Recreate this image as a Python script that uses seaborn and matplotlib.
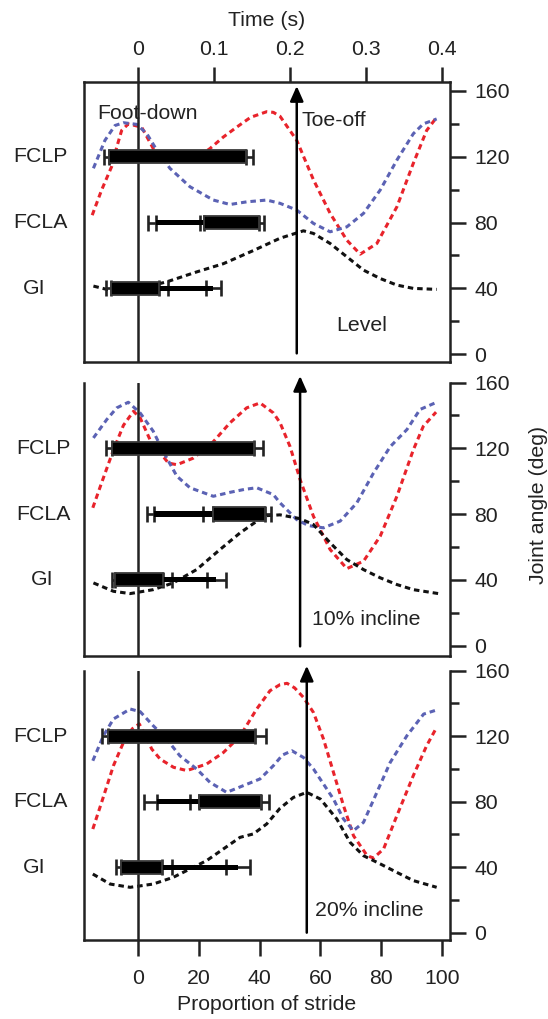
import numpy as np
import pandas as pd
import matplotlib
matplotlib.use("Agg")
import matplotlib.pyplot as plt
import seaborn as sns

sns.set_style("white")
plt.rcParams["font.family"] = ["Liberation Sans", "DejaVu Sans"]
plt.rcParams["text.color"] = "#222222"
plt.rcParams["axes.labelcolor"] = "#222222"
plt.rcParams["xtick.color"] = "#222222"
plt.rcParams["ytick.color"] = "#222222"

# ---------------- data ----------------
conditions = ["Level", "10% incline", "20% incline"]
muscles = ["FCLP", "FCLA", "GI"]
muscle_levels = [120, 80, 40]
toe_off = [52.2, 53.3, 55.5]
stride_time = 0.4
time_ticks = [0, 0.1, 0.2, 0.3, 0.4]
stride_ticks = [0, 20, 40, 60, 80, 100]
angle_ticks = [0, 40, 80, 120, 160]
angle_minor = [20, 60, 100, 140]

# joint angle curves (proportion of stride, degrees)
level_red_x = [-15.2, -12.1, -8.8, -7.1, -5.5, -3.3, 1.1, 5.5, 10, 14, 19, 23.6, 28, 32.4, 37, 42.3, 44.5,
               46.7, 52.2, 57.7, 63.2, 68.7, 73.1, 78.6, 85.2, 90.6, 95, 98.3]
level_red_y = [84.5, 99.8, 114, 126, 136, 140, 138, 123, 118, 117, 119, 125, 132, 138, 144, 147.4, 147,
               144.6, 130, 106, 85.6, 69.3, 60.8, 67.3, 89.6, 116, 136, 144]
level_blue_x = [-14.8, -11, -7.7, -4.9, -0.5, 2.8, 6.1, 10.4, 17, 24.7, 30.2, 35.7, 42.3, 46.7, 52.2, 57.7,
                63.2, 68.7, 74.2, 79.7, 85.2, 90.6, 93.9, 98.3]
level_blue_y = [113, 130, 139, 140.7, 139.7, 134, 124, 113, 101.8, 93.7, 91, 92.6, 93.7, 91.7, 87.6, 79.5,
                74.4, 77.4, 85.6, 99.8, 118, 134, 140, 143]
level_black_x = [-14.8, -10.4, -5, 0, 5, 9.4, 19.2, 28, 37.9, 46.7, 54.4, 57.7, 63.2, 68.7, 74.2, 79.7,
                 85.2, 90.6, 98.3]
level_black_y = [41.4, 39.4, 39, 40, 42, 44, 50, 55, 63, 70.5, 75, 73.4, 67.3, 59.2, 51.1, 46, 42, 40, 39.4]

inc10_red_x = [-15, -12.1, -8.2, -4.9, -1.6, 0.6, 3.9, 9.9, 12.7, 18.1, 24.7, 30.2, 35.7, 40.1, 44.5, 46.7,
               50, 53.3, 57.7, 63.2, 68.7, 74.2, 79.7, 85.2, 90.6, 93.9, 98.1]
inc10_red_y = [83.8, 99, 119, 134, 142.5, 138.5, 125, 111, 110, 114, 124, 135.5, 144.6, 147.6, 141.5, 135.5,
               121, 101, 78.6, 58.4, 46.8, 51.3, 66.5, 90.8, 119, 133.4, 142]
inc10_blue_x = [-14.8, -10.4, -7.1, -3.3, 0.6, 4.9, 8.2, 12.7, 17, 24.7, 30.2, 35, 39, 44.5, 46.7, 52.2,
                56, 61, 66.5, 72, 77.5, 83, 88.5, 92.8, 97.8]
inc10_blue_y = [126.3, 137.5, 144.6, 148, 141.5, 130.4, 118, 103, 96, 90.8, 93.2, 95, 96, 91.8, 86.8, 76.6,
                73, 71.6, 75.7, 86.8, 105, 121, 131.4, 143.6, 147.6]
inc10_black_x = [-14.8, -8.2, -2.7, 4.9, 11.5, 19.2, 26.9, 33.5, 39, 42, 46.7, 53.3, 57.7, 63.2, 68.7,
                 74.2, 79.7, 85.2, 90.6, 98.9]
inc10_black_y = [38.1, 33, 31.6, 34, 38.1, 46.2, 58.4, 68.5, 75.6, 79, 79.5, 77.2, 73.6, 62.5, 52.3,
                 46.2, 41.2, 37.1, 34, 31.6]

inc20_red_x = [-15, -12.1, -8.2, -4.9, -2, 0.3, 2.5, 4.4, 7.2, 11.6, 16, 22.5, 28, 33.5, 39, 43.4, 46.7,
               49, 51.5, 54.4, 57.7, 61, 64.3, 67.6, 70.9, 75.4, 77.5, 80.8, 85.2, 90.6, 95, 98.3]
inc20_red_y = [63.3, 79.6, 102, 116.2, 124.5, 127.5, 120, 112.2, 106, 101, 99, 103, 110, 120, 136.6, 147.8,
               151.5, 152.3, 149.5, 143.7, 134.5, 118.3, 97.9, 77.6, 59.2, 47, 45.6, 51.1, 71.5, 95.9,
               114.2, 125.4]
inc20_blue_x = [-15, -11.5, -8.2, -2.7, 0.6, 4.9, 9.3, 13.7, 19.2, 23.6, 29.1, 34.6, 40.1, 44.5, 47.5,
                50.6, 54.4, 57.7, 61, 64.3, 67.6, 70.9, 74.2, 78.6, 83, 88.5, 94, 98.3]
inc20_blue_y = [105, 120.3, 130.5, 136.6, 135, 126.4, 118.3, 108, 100, 91.8, 85.7, 89.8, 93.9, 102, 108.5,
                111.1, 107, 100, 90.8, 81.6, 69.4, 62.3, 67.4, 85.7, 104, 120.3, 133.5, 136]
inc20_black_x = [-15, -9.3, -2.7, 4.9, 11.5, 17, 22.5, 28, 33.5, 37.9, 42.3, 46.7, 51.1, 55.5, 60, 65.4,
                 69.8, 74.2, 79.7, 85.2, 90.6, 98.3]
inc20_black_y = [35.8, 29.7, 27.7, 29.7, 33.8, 38.9, 44, 51.1, 58.2, 60.3, 66.4, 76, 82.6, 85.7, 81.6,
                 69.4, 55.1, 47, 42, 36.8, 31.8, 27.7]

# EMG activity (proportion of stride); rows: FCLP, FCLA, GI
level_thick_on = [-9.6, 21.8, -9.0]
level_thick_off = [35.5, 39.9, 6.9]
level_thick_on_sd = [1.6, 1.5, 1.6]
level_thick_off_sd = [2.2, 1.6, 3.0]
level_thin_on = [np.nan, 5.9, 6.9]
level_thin_off = [np.nan, 21.8, 24.7]
level_thin_on_sd = [np.nan, 2.6, np.nan]
level_thin_off_sd = [np.nan, np.nan, 2.55]

inc10_thick_on = [-8.8, 24.5, -7.7]
inc10_thick_off = [38.1, 41.8, 8.2]
inc10_thick_on_sd = [1.8, 3.3, 1.1]
inc10_thick_off_sd = [2.9, 1.8, 2.8]
inc10_thin_on = [np.nan, 5.2, 8.2]
inc10_thin_off = [np.nan, 24.5, 25.7]
inc10_thin_on_sd = [np.nan, 2.5, np.nan]
inc10_thin_off_sd = [np.nan, np.nan, 3.2]

inc20_thick_on = [-10.1, 20.1, -5.8]
inc20_thick_off = [38.5, 40.4, 7.9]
inc20_thick_on_sd = [2.0, 3.1, 1.5]
inc20_thick_off_sd = [3.6, 2.7, 3.1]
inc20_thin_on = [np.nan, 6.1, 7.9]
inc20_thin_off = [np.nan, 20.1, 32.8]
inc20_thin_on_sd = [np.nan, 4.2, np.nan]
inc20_thin_off_sd = [np.nan, np.nan, 3.95]

curves = [
    [(level_red_x, level_red_y), (level_blue_x, level_blue_y), (level_black_x, level_black_y)],
    [(inc10_red_x, inc10_red_y), (inc10_blue_x, inc10_blue_y), (inc10_black_x, inc10_black_y)],
    [(inc20_red_x, inc20_red_y), (inc20_blue_x, inc20_blue_y), (inc20_black_x, inc20_black_y)],
]
emg = [
    (level_thick_on, level_thick_off, level_thick_on_sd, level_thick_off_sd,
     level_thin_on, level_thin_off, level_thin_on_sd, level_thin_off_sd),
    (inc10_thick_on, inc10_thick_off, inc10_thick_on_sd, inc10_thick_off_sd,
     inc10_thin_on, inc10_thin_off, inc10_thin_on_sd, inc10_thin_off_sd),
    (inc20_thick_on, inc20_thick_off, inc20_thick_on_sd, inc20_thick_off_sd,
     inc20_thin_on, inc20_thin_off, inc20_thin_on_sd, inc20_thin_off_sd),
]

# ---------------- styling / layout ----------------
curve_colors = ["#e8232b", "#5b62b4", "#111111"]
ink = "#222222"
fs = 15.3
lw_ax = 1.8
rects = [(0.1533, 0.6445, 0.6679, 0.2751),
         (0.1533, 0.3565, 0.6679, 0.2681),
         (0.1533, 0.0775, 0.6679, 0.2643)]
ylims = [(-4.9, 165.5), (-6.2, 160), (-4.5, 160)]
xlim = (-17.9, 102.7)
arrow_top = [163, 164, 163]
arrow_bot = [0.5, -0.5, 0]
cond_pos = [(73.5, 17.2), (75.1, 15.8), (76.2, 13.4)]
label_x = [[-0.12, -0.12, -0.135], [-0.11, -0.11, -0.115], [-0.12, -0.12, -0.135]]

fig = plt.figure(figsize=(5.48, 10.19), dpi=100)

for i in range(3):
    ax = fig.add_axes(rects[i])
    ax.set_facecolor("white")

    # joint angle curves
    for (cx, cy), col in zip(curves[i], curve_colors):
        df = pd.DataFrame({"stride": cx, "angle": cy})
        sns.lineplot(data=df, x="stride", y="angle", color=col, lw=2.2, sort=False,
                     estimator=None, ax=ax, zorder=2)
        ax.lines[-1].set_dashes((1.8, 1.3))
        ax.lines[-1].set_dash_capstyle("butt")

    # foot-down line
    ax.axvline(0, color=ink, lw=lw_ax, zorder=3)

    # EMG bars
    (t_on, t_off, t_on_sd, t_off_sd, n_on, n_off, n_on_sd, n_off_sd) = emg[i]
    ekw = dict(fmt="none", ecolor=ink, elinewidth=1.9, capsize=6, capthick=1.9, zorder=4)
    for k, lev in enumerate(muscle_levels):
        ax.errorbar(t_on[k], lev, xerr=[[t_on_sd[k]], [0]], **ekw)
        ax.errorbar(t_off[k], lev, xerr=[[0], [t_off_sd[k]]], **ekw)
        if not np.isnan(n_on[k]):
            ax.barh(lev, n_off[k] - n_on[k], left=n_on[k], height=3.2, color="black",
                    edgecolor="black", lw=0, zorder=4.5)
            if not np.isnan(n_on_sd[k]):
                ax.errorbar(n_on[k], lev, xerr=[[n_on_sd[k]], [0]], **ekw)
            if not np.isnan(n_off_sd[k]):
                ax.errorbar(n_off[k], lev, xerr=[[n_off_sd[k]], [n_off_sd[k]]], **ekw)
        ax.barh(lev, t_off[k] - t_on[k], left=t_on[k], height=8.0, color="black",
                edgecolor="#3a3a3a", lw=1.3, zorder=5)
        ax.text(label_x[i][k], lev, muscles[k], transform=ax.get_yaxis_transform(),
                ha="center", va="center", fontsize=fs, color=ink)

    # toe-off arrow
    ax.annotate("", xy=(toe_off[i], arrow_top[i]), xytext=(toe_off[i], arrow_bot[i]),
                arrowprops=dict(arrowstyle="-|>,head_length=0.45,head_width=0.2", color="black",
                                lw=1.8, shrinkA=0, shrinkB=0, mutation_scale=20),
                annotation_clip=False, zorder=6)

    ax.text(cond_pos[i][0], cond_pos[i][1], conditions[i], ha="center", va="center",
            fontsize=fs, color=ink)
    if i == 0:
        ax.text(-13.7, 146.6, "Foot-down", ha="left", va="center", fontsize=fs, color=ink)
        ax.text(53.9, 141.9, "Toe-off", ha="left", va="center", fontsize=fs, color=ink)

    ax.set_xlim(*xlim)
    ax.set_ylim(*ylims[i])
    ax.set_xlabel("")
    ax.set_ylabel("")

    for s in ["left", "right", "bottom", "top"]:
        ax.spines[s].set_color(ink)
        ax.spines[s].set_linewidth(lw_ax)
    if i > 0:
        ax.spines["top"].set_visible(False)

    # right angle axis
    ax.yaxis.tick_right()
    ax.set_yticks(angle_ticks)
    ax.set_yticklabels([str(v) for v in angle_ticks])
    ax.set_yticks(angle_minor, minor=True)
    ax.tick_params(axis="y", which="major", direction="out", length=11.5, width=lw_ax,
                   pad=6, labelsize=fs, left=False, right=True)
    ax.tick_params(axis="y", which="minor", direction="out", length=6.5, width=lw_ax,
                   left=False, right=True)

    if i == 0:
        ax.xaxis.tick_top()
        ax.xaxis.set_label_position("top")
        ax.set_xticks([t / stride_time * 100 for t in time_ticks])
        ax.set_xticklabels(["0" if t == 0 else f"{t:.1f}" for t in time_ticks])
        ax.tick_params(axis="x", direction="out", length=11, width=lw_ax, pad=5.5,
                       labelsize=fs, top=True, bottom=False)
        ax.set_xlabel("Time (s)", fontsize=fs, labelpad=10)
    elif i == 1:
        ax.set_xticks([])
    else:
        ax.set_xticks(stride_ticks)
        ax.set_xticklabels([str(v) for v in stride_ticks])
        ax.tick_params(axis="x", direction="out", length=11.5, width=lw_ax, pad=9.5,
                       labelsize=fs, top=False, bottom=True)
        ax.set_xlabel("Proportion of stride", fontsize=fs, labelpad=5)

fig.text(0.982, 0.504, "Joint angle (deg)", rotation=90, ha="center", va="center",
         fontsize=fs, color=ink)

fig.savefig("out.png", dpi=100, facecolor="white")
